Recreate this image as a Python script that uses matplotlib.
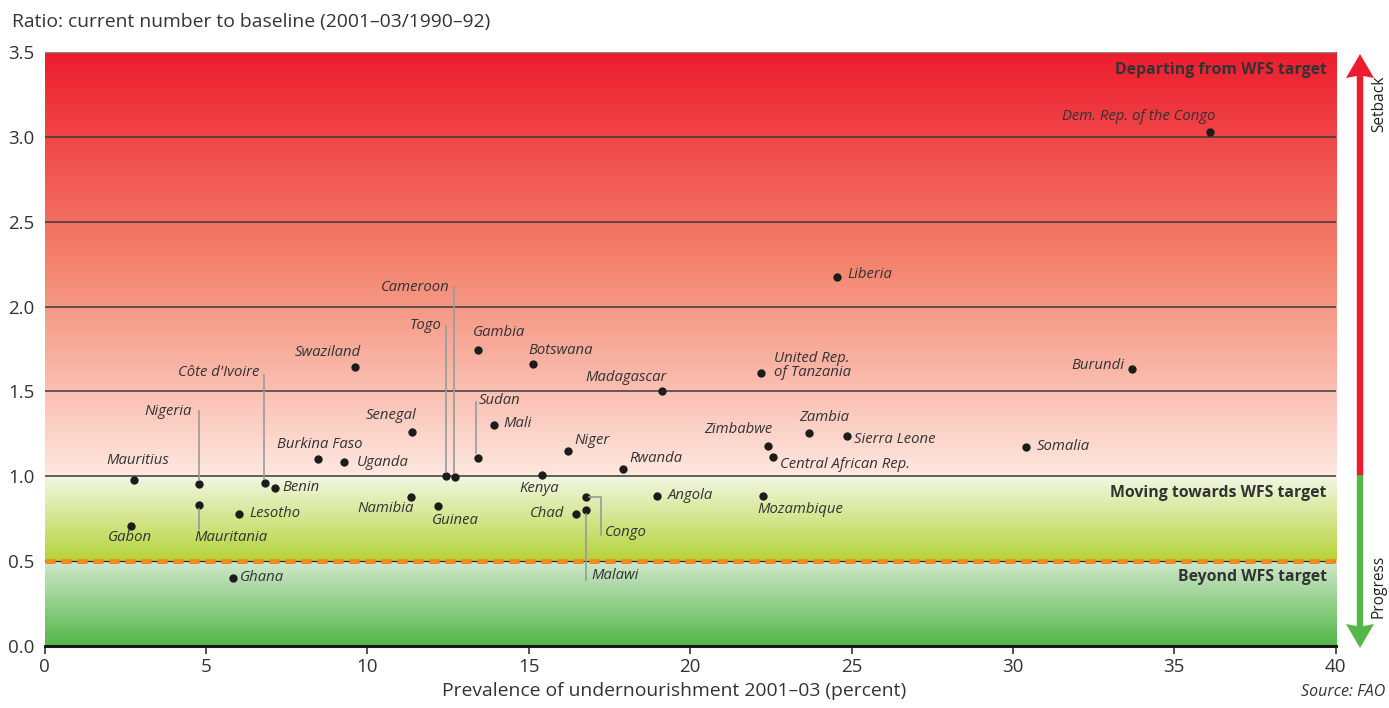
import numpy as np
import matplotlib
matplotlib.use("Agg")
import matplotlib.pyplot as plt
from matplotlib.lines import Line2D
from matplotlib.patches import Polygon
from matplotlib.transforms import IdentityTransform

plt.rcParams['font.family'] = ['Open Sans', 'DejaVu Sans']

# ---------------- data ----------------
countries = ["Mauritius", "Gabon", "Nigeria", "Mauritania", "Lesotho", "Ghana",
             "Côte d'Ivoire", "Benin", "Burkina Faso", "Uganda", "Swaziland",
             "Senegal", "Namibia", "Guinea", "Togo", "Cameroon", "Gambia", "Sudan",
             "Mali", "Botswana", "Kenya", "Niger", "Chad", "Congo", "Malawi",
             "Rwanda", "Angola", "Madagascar", "United Rep.\nof Tanzania",
             "Zimbabwe", "Central African Rep.", "Mozambique", "Zambia",
             "Sierra Leone", "Liberia", "Somalia", "Burundi",
             "Dem. Rep. of the Congo"]
prevalence = [2.77, 2.69, 4.79, 4.79, 6.03, 5.85,
              6.83, 7.14, 8.48, 9.29, 9.62,
              11.39, 11.34, 12.18, 12.45, 12.73, 13.42, 13.42,
              13.93, 15.13, 15.40, 16.22, 16.46, 16.78, 16.78,
              17.93, 18.97, 19.13, 22.20,
              22.40, 22.58, 22.27, 23.68,
              24.87, 24.55, 30.41, 33.70,
              36.11]
ratio = [0.978, 0.709, 0.955, 0.833, 0.778, 0.402,
         0.962, 0.933, 1.100, 1.084, 1.644,
         1.263, 0.880, 0.825, 1.002, 0.994, 1.744, 1.110,
         1.302, 1.660, 1.009, 1.147, 0.778, 0.878, 0.803,
         1.041, 0.886, 1.503, 1.607,
         1.179, 1.116, 0.886, 1.253,
         1.239, 2.177, 1.171, 1.630,
         3.027]
x_ticks = [0, 5, 10, 15, 20, 25, 30, 35, 40]
y_ticks = [0.0, 0.5, 1.0, 1.5, 2.0, 2.5, 3.0, 3.5]
zone_labels = ["Departing from WFS target", "Moving towards WFS target", "Beyond WFS target"]
zone_label_y = [3.394, 0.902, 0.407]

# label placement (pixel offsets from the dot, y up) and alignment
label_layout = {
    "Dem. Rep. of the Congo": (5, 16, 'right'),
    "Liberia": (10, 2, 'left'),
    "Burundi": (-8, 4, 'right'),
    "United Rep.\nof Tanzania": (13, 8, 'left'),
    "Madagascar": (5, 13, 'right'),
    "Swaziland": (6, 14, 'right'),
    "Gambia": (-5, 18, 'left'),
    "Botswana": (-5, 14, 'left'),
    "Cameroon": (-6, 190, 'right'),
    "Togo": (-5, 150, 'right'),
    "Sudan": (1, 57, 'left'),
    "Mali": (9, 2, 'left'),
    "Côte d'Ivoire": (-6, 110, 'right'),
    "Nigeria": (-7, 72, 'right'),
    "Mauritania": (-5, -33, 'left'),
    "Mauritius": (4, 20, 'center'),
    "Gabon": (-1, -12, 'center'),
    "Lesotho": (10, 0, 'left'),
    "Benin": (7, 0, 'left'),
    "Burkina Faso": (2, 15, 'center'),
    "Uganda": (12, 0, 'left'),
    "Senegal": (4, 16, 'right'),
    "Namibia": (3, -12, 'right'),
    "Ghana": (7, 0, 'left'),
    "Guinea": (-6, -15, 'left'),
    "Kenya": (-2, -14, 'center'),
    "Chad": (-12, 0, 'right'),
    "Congo": (19, -36, 'left'),
    "Malawi": (5, -66, 'left'),
    "Niger": (6, 11, 'left'),
    "Rwanda": (6, 11, 'left'),
    "Angola": (11, 0, 'left'),
    "Zimbabwe": (5, 16, 'right'),
    "Central African Rep.": (7, -8, 'left'),
    "Mozambique": (-6, -14, 'left'),
    "Zambia": (15, 16, 'center'),
    "Sierra Leone": (7, -4, 'left'),
    "Somalia": (11, 1, 'left'),
}
leaders = {
    "Cameroon": [(-1, 4), (-1, 190)],
    "Togo": [(0, 4), (0, 150)],
    "Sudan": [(-1.5, 5), (-1.5, 56)],
    "Côte d'Ivoire": [(-1, 4), (-1, 108)],
    "Nigeria": [(0, 4), (0, 73)],
    "Mauritania": [(0, -4), (0, -24)],
    "Congo": [(3, 0), (15, 0), (15, -38)],
    "Malawi": [(0, -4), (0, -70)],
}

# ---------------- figure ----------------
W, H = 1389, 708
fig = plt.figure(figsize=(W / 100, H / 100), dpi=100)
L, R, B, T = 44.5, 1335.7, 646, 52
ax = fig.add_axes([L / W, (H - B) / H, (R - L) / W, (B - T) / H])
ax.set_xlim(0, 40)
ax.set_ylim(0, 3.5)

# gradient background
def lerp_stops(vals, stops):
    ys = [s[0] for s in stops]
    out = np.zeros((len(vals), 3))
    for c in range(3):
        out[:, c] = np.interp(vals, ys, [s[1][c] for s in stops])
    return out / 255.0

n = 700
yy = np.linspace(0, 3.5, n)
red = lerp_stops(yy, [(1.0, (254, 232, 224)), (2.25, (244, 132, 110)), (3.5, (237, 28, 46))])
yel = lerp_stops(yy, [(0.5, (182, 211, 55)), (1.0, (242, 247, 228))])
grn = lerp_stops(yy, [(0.0, (84, 182, 72)), (0.5, (208, 232, 204))])
img = np.where((yy >= 1.0)[:, None], red, np.where((yy >= 0.5)[:, None], yel, grn))
img = np.repeat(img[:, None, :], 4, axis=1)
ax.imshow(img, origin='lower', extent=[0, 40, 0, 3.5], aspect='auto',
          interpolation='bilinear', zorder=0)

# grid lines
for g in [1.0, 1.5, 2.0, 2.5, 3.0]:
    ax.axhline(g, color='#3a3a3a', lw=1.1, zorder=1)
ax.axhline(3.5, color='#888888', lw=1.0, zorder=1)
ax.axhline(0.5, color='#222222', lw=0.9, zorder=1)
ax.axhline(0.5, color='#f28a1f', lw=3.6, dashes=(2.0, 1.2), zorder=1.5)

# points
ax.scatter(prevalence, ratio, s=36, color='#1c1c1c', zorder=4, linewidths=0)

# labels
for name, x, y in zip(countries, prevalence, ratio):
    dx, dy, ha = label_layout[name]
    ax.annotate(name, (x, y), xytext=(dx, dy), textcoords='offset pixels',
                ha=ha, va='center', fontsize=10.7, style='italic', color='#333333',
                linespacing=0.95, zorder=5)

# leader lines
for name, pts in leaders.items():
    i = countries.index(name)
    px, py = ax.transData.transform((prevalence[i], ratio[i]))
    xs = [px + p[0] for p in pts]
    ys = [py + p[1] for p in pts]
    fig.add_artist(Line2D(xs, ys, transform=IdentityTransform(), color='#9a9a9a',
                          lw=1.2, zorder=3))

# zone labels
for lab, y in zip(zone_labels, zone_label_y):
    ax.annotate(lab, (40, y), xytext=(-9, 0), textcoords='offset pixels',
                ha='right', va='center', fontsize=11.4, fontweight='bold',
                color='#333333', zorder=5)

# axes styling
for s in ['left', 'right', 'top']:
    ax.spines[s].set_visible(False)
ax.spines['bottom'].set_linewidth(2.2)
ax.spines['bottom'].set_color('#1a1a1a')
ax.spines['bottom'].set_zorder(6)
ax.set_xticks(x_ticks)
ax.set_yticks(y_ticks)
ax.set_yticklabels([f"{v:.1f}" for v in y_ticks])
ax.tick_params(axis='x', length=6, width=1.2, color='#333333', labelsize=13.5,
               labelcolor='#333333', pad=3)
ax.tick_params(axis='y', length=0, labelsize=13.5, labelcolor='#333333', pad=7)
ax.set_xlabel("Prevalence of undernourishment 2001–03 (percent)", fontsize=13.9,
              color='#333333', labelpad=4, x=0.488)

fig.text(12 / W, 1 - 22 / H, "Ratio: current number to baseline (2001–03/1990–92)",
         fontsize=13.9, color='#333333', ha='left', va='center')
fig.text(1385 / W, 1 - 692 / H, "Source: FAO", fontsize=11.5, style='italic',
         color='#333333', ha='right', va='center')

# side arrows (overlay in pixel space)
ov = fig.add_axes([0, 0, 1, 1], zorder=10)
ov.set_xlim(0, W)
ov.set_ylim(H, 0)
ov.axis('off')
ov.patch.set_alpha(0)
cx, hw, sw = 1360, 14, 3.2
red_c, grn_c = '#ec1c2e', '#55b748'
ov.add_patch(Polygon([(cx - sw, 475), (cx - sw, 76), (cx - hw, 78), (cx, 54),
                      (cx + hw, 78), (cx + sw, 76), (cx + sw, 475)],
                     closed=True, color=red_c, lw=0))
ov.add_patch(Polygon([(cx - sw, 475), (cx - sw, 626), (cx - hw, 624), (cx, 648),
                      (cx + hw, 624), (cx + sw, 626), (cx + sw, 475)],
                     closed=True, color=grn_c, lw=0))
ov.text(1379, 104, "Setback", rotation=90, ha='center', va='center',
        fontsize=11.2, color='#222222')
ov.text(1379, 586, "Progress", rotation=90, ha='center', va='center',
        fontsize=11.2, color='#222222')

fig.savefig("out.png", dpi=100)
